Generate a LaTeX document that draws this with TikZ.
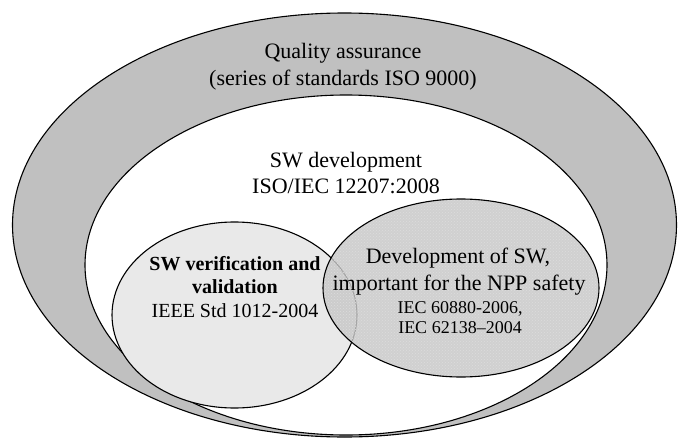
\documentclass[tikz,border=0pt]{standalone}
\usepackage{fontspec}
\setmainfont{Liberation Serif}
\usetikzlibrary{patterns}
\definecolor{bandgray}{HTML}{C0C0C0}
\definecolor{vvgray}{HTML}{E9E9E9}
\definecolor{nppgray}{HTML}{C6C6C6}
\definecolor{dotgray}{HTML}{DDDDDD}
\begin{document}
\begin{tikzpicture}[x=1pt,y=-1pt,
  ring/.style={draw=black,line width=1.1pt},
  bigtxt/.style={font=\fontsize{22}{26}\selectfont,anchor=base,inner sep=0pt},
  vvtxt/.style={font=\fontsize{20}{24}\selectfont,anchor=base,inner sep=0pt},
  vvbold/.style={font=\fontsize{20}{24}\selectfont\bfseries,anchor=base,inner sep=0pt},
  smalltxt/.style={font=\fontsize{18}{20}\selectfont,anchor=base,inner sep=0pt}]
\useasboundingbox (0,0) rectangle (678,439);
% outer: quality assurance
\path[ring,fill=bandgray] (344.5,225) ellipse [x radius=332pt,y radius=212pt];
% inner: SW development
\path[ring,fill=white] (346,265) ellipse [x radius=261pt,y radius=170pt];
% V&V
\path[ring,fill=vvgray] (234.5,315) ellipse [x radius=122.5pt,y radius=93pt];
% NPP safety
\path[fill=nppgray,fill opacity=0.82] (461,288) ellipse [x radius=138pt,y radius=89pt];
\path[pattern=crosshatch dots,pattern color=dotgray] (461,288) ellipse [x radius=138pt,y radius=89pt];
\path[ring] (461,288) ellipse [x radius=138pt,y radius=89pt];
% texts
\node[bigtxt] (qa1) at (343,58) {Quality assurance};
\node[bigtxt] (qa2) at (343,85) {(series of standards ISO 9000)};
\node[bigtxt] (sw1) at (346,167) {SW development};
\node[bigtxt] (sw2) at (346,193) {ISO/IEC 12207:2008};
\node[vvbold] (vv1) at (235,270) {SW verification and};
\node[vvbold] (vv2) at (235,293) {validation};
\node[vvtxt] (vv3) at (235,317) {IEEE Std 1012-2004};
\node[bigtxt] (np1) at (458,263) {Development of SW,};
\node[bigtxt] (np2) at (459,290) {important for the NPP safety};
\node[smalltxt] (np3) at (460,313) {IEC 60880-2006,};
\node[smalltxt] (np4) at (460,333) {IEC 62138–2004};
\end{tikzpicture}
\end{document}
